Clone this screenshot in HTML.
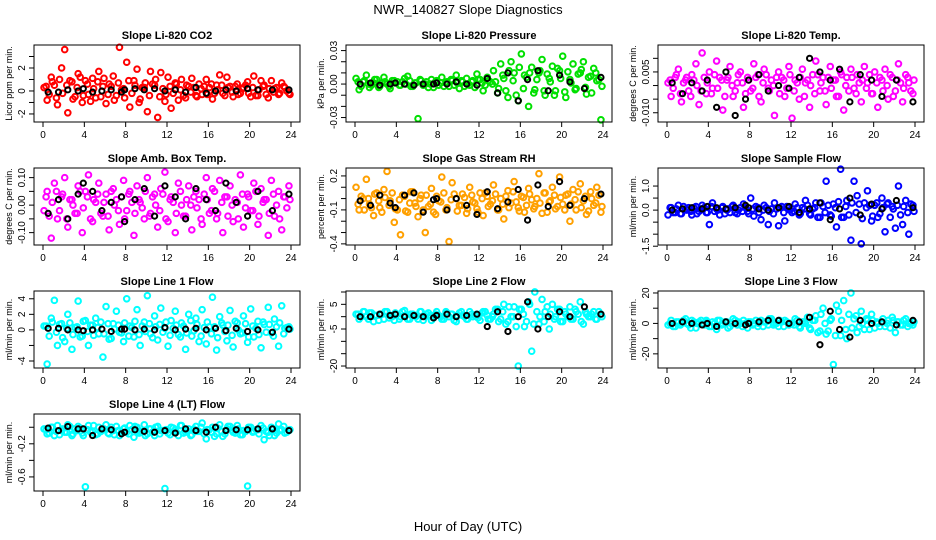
<!DOCTYPE html>
<html><head><meta charset="utf-8"><style>
body{margin:0;background:#fff;width:936px;height:540px;overflow:hidden}
svg{display:block;font-family:"Liberation Sans",sans-serif}
</style></head><body>
<svg id="chart" width="936" height="540" viewBox="0 0 936 540">
<rect width="936" height="540" fill="#fff"/>
<text x="468" y="14" text-anchor="middle" font-size="13">NWR_140827  Slope Diagnostics</text>
<text x="468" y="531" text-anchor="middle" font-size="13">Hour of Day (UTC)</text>
</svg>
<script>
const hoursColor = [0.1,0.4,0.8,1.1,1.4,1.8,2.1,2.4,2.8,3.1,3.4,3.8,4.1,4.4,4.8,5.1,5.4,5.8,6.1,6.4,6.8,7.1,7.4,7.8,8.1,8.4,8.8,9.1,9.4,9.8,10.1,10.4,10.8,11.1,11.4,11.8,12.1,12.4,12.8,13.1,13.4,13.8,14.1,14.4,14.8,15.1,15.4,15.8,16.1,16.4,16.8,17.1,17.4,17.8,18.1,18.4,18.8,19.1,19.4,19.8,20.1,20.4,20.8,21.1,21.4,21.8,22.1,22.4,22.8,23.1,23.4,23.8];
const hoursCore = [0.3,0.6,0.9,1.3,1.6,1.9,2.3,2.6,2.9,3.3,3.6,3.9,4.3,4.6,4.9,5.3,5.6,5.9,6.3,6.6,6.9,7.3,7.6,7.9,8.3,8.6,8.9,9.3,9.6,9.9,10.3,10.6,10.9,11.3,11.6,11.9,12.3,12.6,12.9,13.3,13.6,13.9,14.3,14.6,14.9,15.3,15.6,15.9,16.3,16.6,16.9,17.3,17.6,17.9,18.3,18.6,18.9,19.3,19.6,19.9,20.3,20.6,20.9,21.3,21.6,21.9,22.3,22.6,22.9,23.3,23.6,23.9];
const hoursBlack = [0.5,1.5,2.4,3.4,3.9,4.8,5.7,6.6,7.6,7.9,8.9,9.8,10.8,11.8,12.8,13.8,14.8,15.8,16.7,17.7,18.7,19.8,20.8,22.2,23.8];
const xTicks = [0,4,8,12,16,20,24];

const co2Color = [0.3,-0.8,1.2,0.5,-1.2,2.0,3.6,-1.9,0.8,-0.5,1.5,-1.0,0.9,-0.3,1.1,-0.6,1.7,0.4,-1.1,0.6,1.3,-0.4,3.8,0.2,2.5,-1.4,0.9,1.9,-0.7,0.3,-1.8,1.7,0.5,-2.3,1.6,-0.9,1.2,-1.5,0.7,-0.8,1.0,-0.6,0.4,1.1,-0.4,0.6,-0.3,1.0,0.3,-0.7,0.5,1.4,-0.2,1.2,0.4,-0.5,0.6,-0.2,0.3,0.8,-0.5,1.3,-0.4,0.9,0.5,-0.6,0.9,0.2,-0.3,0.7,0.3,-0.2];
const co2Core = [0.4,-0.3,0.8,-0.6,1.0,-0.2,0.5,0.9,-0.7,0.3,1.2,-0.4,0.6,-0.9,0.2,0.8,-0.5,1.1,-0.3,0.4,-0.8,0.7,0.1,-0.6,0.9,-0.2,0.5,-1.0,0.3,0.7,-0.4,0.6,1.0,-0.5,0.2,-0.3,0.4,-0.2,0.6,0.1,-0.4,0.5,-0.1,0.3,-0.5,0.2,0.4,-0.3,0.6,-0.2,0.1,0.5,-0.4,0.3,-0.1,0.4,-0.3,0.2,0.5,-0.2,0.3,-0.4,0.1,0.4,-0.3,0.2,-0.1,0.3,-0.2,0.4,0.0,-0.3];
const co2Black = [-0.1,-0.1,0.1,0,0.2,-0.1,0,0.1,-0.1,0.1,0.2,0.1,0.2,0,0.1,-0.1,0.3,-0.2,0,0.1,0,0.2,0.1,0.1,0.1];
const presColor = [0.005,-0.005,0.002,0.008,-0.003,0.001,0.004,-0.002,0.006,0,-0.004,0.003,0.002,-0.001,0.005,0.007,-0.002,0.001,-0.031,0.003,0,-0.003,0.004,0.002,-0.001,0.006,0.001,-0.002,0.003,0.008,-0.004,0.002,0.005,-0.001,0.003,0.009,0.004,-0.006,0.006,0.002,0.012,-0.008,0.018,0.005,-0.012,0.02,0.01,-0.015,0.027,0.008,-0.02,0.015,-0.005,0.01,0.022,-0.01,0.005,0.016,-0.006,0.012,0.025,-0.012,0.004,0.018,-0.004,0.01,0.02,-0.009,0.007,0.014,0.003,-0.032];
const presCore = [0.002,-0.002,0.003,0,-0.001,0.004,-0.003,0.001,0.002,-0.002,0.003,0.001,-0.001,0.002,0,0.003,-0.002,0.001,0.004,-0.001,0.002,0,-0.003,0.003,0.001,-0.002,0.002,0.004,-0.001,0.001,0.003,-0.002,0,0.002,-0.003,0.004,0.001,-0.001,0.003,0,0.002,-0.004,0.008,-0.006,0.012,0.003,-0.01,0.015,-0.004,0.006,0.01,-0.008,0.004,0.012,-0.006,0.009,0.002,-0.01,0.014,0.005,-0.007,0.011,0.001,-0.005,0.009,0.013,-0.003,0.006,-0.008,0.01,0.004,-0.002];
const presBlack = [0,0.001,-0.001,0,0.001,0,-0.001,0,0,0.001,0,0.002,0,-0.001,0.005,-0.008,0.01,-0.015,0.004,0.012,-0.006,0.008,0.002,-0.004,0.006];
const tempColor = [0.001,-0.004,0.003,0.006,-0.006,0.002,-0.002,0.004,0.008,-0.007,0.012,-0.003,0.005,-0.001,0.009,0.003,-0.009,0.002,0.007,-0.004,0.001,0.005,-0.008,0.003,-0.002,0.008,0.004,-0.006,0.006,-0.001,0.002,-0.011,0.005,0.003,-0.004,0.007,-0.012,0.002,-0.005,0.006,0.001,-0.008,0.004,0.009,-0.002,0.003,-0.007,0.007,0.002,-0.004,0.005,-0.009,0.003,0.006,-0.001,0.004,-0.006,0.007,0.001,-0.003,0.005,-0.008,0.002,0.006,-0.005,0.003,-0.002,0.008,-0.006,0.004,0.001,-0.003];
const tempCore = [0.002,-0.001,0.004,-0.003,0.001,0.003,-0.004,0.002,0,-0.002,0.003,0.001,-0.003,0.004,-0.001,0.002,-0.004,0.003,0,-0.002,0.004,0.001,-0.003,0.002,-0.001,0.003,-0.004,0.001,0.004,-0.002,0,0.003,-0.003,0.002,-0.001,0.004,-0.002,0.001,0.003,-0.004,0.002,0,-0.003,0.004,0.001,-0.002,0.003,-0.001,0.002,-0.004,0.004,0,-0.002,0.003,-0.003,0.001,0.002,-0.001,0.004,-0.003,0.001,0.003,-0.002,0,0.004,-0.004,0.002,0.001,-0.001,0.003,-0.002,0.002];
const tempBlack = [0.001,-0.003,0.001,-0.002,0.002,-0.008,0.005,-0.011,-0.005,0.002,0.004,-0.002,0,-0.001,0.003,0.01,0.005,0.002,0.006,-0.006,0.004,0.002,-0.004,0.002,-0.006];
const ambColor = [-0.02,0.05,-0.12,0.08,-0.05,0.03,0.1,-0.08,0.02,-0.03,0.07,-0.1,0.05,0.11,-0.06,0.01,0.08,-0.04,0.04,-0.09,0.06,0.02,-0.07,0.09,-0.02,0.05,-0.11,0.07,0.01,-0.05,0.1,-0.03,0.04,-0.08,0.06,0.12,-0.06,0.03,-0.1,0.08,0,-0.04,0.07,-0.09,0.05,0.02,-0.07,0.1,-0.03,0.06,-0.05,0.09,-0.1,0.03,0.07,-0.06,0.01,0.11,-0.08,0.04,-0.02,0.08,-0.07,0.06,0.02,-0.11,0.09,-0.04,0.05,-0.09,0.03,0.07];
const ambCore = [0.03,-0.04,0.01,0.05,-0.02,0.04,-0.05,0.02,0,-0.03,0.05,-0.01,0.03,-0.05,0.02,0.04,-0.03,0.01,-0.04,0.05,0,-0.02,0.03,-0.05,0.04,0.01,-0.03,0.02,-0.01,0.05,-0.04,0.03,0,-0.02,0.04,-0.05,0.02,0.01,-0.03,0.05,-0.04,0.02,0,0.03,-0.01,-0.05,0.04,0.02,-0.02,0.05,-0.03,0.01,0.03,-0.04,0,0.02,-0.05,0.04,-0.01,0.03,-0.02,0.05,-0.04,0.01,0.02,-0.03,0.04,0,-0.05,0.03,-0.01,0.02];
const ambBlack = [-0.03,0.02,-0.05,0.04,0.08,0.05,-0.02,0.01,0.03,-0.06,0.02,0.06,-0.04,0.07,0.03,-0.05,0.06,0.02,-0.02,0.08,0.01,-0.04,0.05,-0.02,0.04];
const rhColor = [0.1,-0.1,0.0,0.17,-0.05,-0.15,0.05,-0.08,0.08,0.24,-0.02,-0.21,-0.1,-0.32,0.02,-0.12,0.06,-0.04,-0.16,0.03,-0.3,-0.07,0.09,-0.14,-0.02,0.19,-0.1,-0.38,0.14,0.0,-0.06,0.04,-0.13,0.1,-0.03,-0.09,0.05,-0.15,0.02,-0.05,0.12,-0.1,0.0,-0.18,0.07,-0.04,0.15,-0.08,0.02,-0.12,0.09,-0.01,-0.07,0.22,-0.13,0.05,-0.03,0.1,-0.09,0.19,-0.05,0.03,-0.2,0.08,-0.1,0.13,-0.02,-0.14,0.06,-0.06,0.1,-0.12];
const rhCore = [-0.05,0.02,-0.1,0.0,-0.08,0.04,-0.02,-0.12,0.01,-0.06,0.05,-0.09,-0.01,0.03,-0.11,-0.04,0.06,-0.07,0.0,-0.1,0.03,-0.05,-0.12,0.02,-0.03,0.05,-0.08,-0.01,0.04,-0.11,-0.06,0.01,-0.09,0.03,-0.04,-0.12,0.0,0.05,-0.07,-0.02,0.04,-0.1,-0.05,0.02,-0.08,0.06,-0.03,-0.11,0.01,-0.06,0.04,-0.09,0.0,-0.04,0.05,-0.12,-0.02,0.03,-0.07,0.01,-0.1,0.04,-0.05,-0.01,0.06,-0.08,0.02,-0.11,0.0,-0.04,0.03,-0.07];
const rhBlack = [-0.02,-0.06,0.03,-0.04,-0.08,0.03,0.05,-0.12,-0.01,0.0,-0.1,0.0,-0.06,-0.14,0.06,-0.09,-0.03,0.08,-0.19,0.12,-0.07,0.15,-0.06,0.0,0.04];
const sampColor = [-0.2,0.1,-0.1,0.2,-0.15,0.05,0.1,-0.2,0.15,-0.05,0.2,-0.1,-0.6,0.3,0.05,-0.2,0.15,0.0,-0.1,0.2,-0.15,0.1,0.25,-0.05,0.5,-0.25,0.1,-0.4,0.2,-0.6,0.05,0.3,-0.65,0.15,-0.45,0.1,-0.1,0.25,-0.2,0.1,0.4,-0.15,0.05,0.3,-0.3,0.15,1.2,-0.2,0.25,-0.7,1.7,-0.3,0.4,-1.25,1.2,0.6,-1.4,0.3,0.8,-0.45,0.2,-0.3,0.5,-0.9,0.3,0.15,-0.75,1.0,-0.6,0.4,-1.0,0.2];
const sampCore = [0.1,-0.1,0.05,-0.15,0.15,0,-0.05,0.1,-0.15,0.05,0.1,-0.1,0.15,-0.05,0,0.1,-0.15,0.05,0.15,-0.1,0,-0.05,0.1,-0.15,0.05,0.15,-0.1,0,0.1,-0.05,-0.15,0.05,0.1,-0.1,0.15,0,-0.05,0.1,-0.15,0.05,0.2,-0.2,0.1,-0.3,0.3,-0.1,0.2,-0.25,0.1,0.35,-0.3,0.15,-0.2,0.3,-0.1,0.25,-0.35,0.1,0.2,-0.25,0.3,-0.15,0.1,0.25,-0.3,0.05,0.2,-0.2,0.15,-0.1,0.25,-0.05];
const sampBlack = [0.0,0.05,0.1,0.05,0.15,0.1,0.05,0.1,0.2,0.1,0.05,0.0,0.1,0.15,-0.1,0.05,0.3,-0.4,0.05,0.5,-0.2,0.25,0.05,0.4,0.1];
const l1Color = [0.5,-4.4,1.5,3.8,-2.0,0.8,-1.5,2.0,-2.5,0.3,3.7,-0.8,1.2,-2.0,0.6,1.5,-0.5,-3.5,3.0,-1.2,0.8,2.4,-0.3,-1.5,4.0,0.5,-0.9,2.6,-2.0,1.0,4.4,-0.5,1.8,-1.3,2.8,0.2,-2.1,1.2,2.4,-0.6,0.9,-2.5,2.0,-0.8,1.5,-1.5,2.6,-1.8,0.4,4.2,-2.6,1.7,0.6,-1.4,2.5,-2.2,0.9,-0.5,1.8,-1.6,2.7,-0.9,1.1,-2.3,0.7,2.9,-0.4,1.4,-2.1,3.1,0.2,0.4];
const l1Core = [0.5,-0.8,1.0,-0.3,0.7,-1.0,0.2,0.9,-0.6,0.4,-0.9,1.1,-0.2,0.6,-0.7,0.3,1.0,-0.5,0.8,-1.1,0.1,0.6,-0.4,0.9,-0.8,0.3,1.1,-0.6,0.5,-0.2,0.8,-1.0,0.4,0.7,-0.3,1.0,-0.7,0.2,0.6,-0.9,0.5,-0.4,1.2,-0.1,0.7,-0.8,0.3,1.0,-0.5,0.4,-1.0,0.9,-0.2,0.6,-0.7,1.1,0.0,-0.4,0.8,-0.9,0.5,0.2,-0.6,1.0,-0.3,0.7,-0.8,0.4,0.9,-0.5,0.3,0.1];
const l1Black = [0.2,0.2,0.0,0.0,-0.1,0.0,0.1,-0.2,0.1,0.1,0.0,0.1,0.0,0.3,0.0,0.1,0.2,0.0,0.2,-0.1,0.2,-0.2,0.0,-0.3,0.1];
const l2Color = [1,-1,2,0,1.5,-2,0.5,1,-1,2,0.5,-1.5,1,0,2.5,-1,1,0.5,-1,2,0,1.5,-1.5,1,0.5,-1,2,0,1,-2,1.5,0.5,-1,2,0,1,-1.5,2,0.5,-1,1,3,-1,5,-2,0,4,-20,3,-4,6,-14,10,-3,7,2,-5,5,0,3,-2,1,4,-1,2,6,-3,1,0,2,-1,1];
const l2Core = [1,0,2,-1,1.5,0.5,-1.5,1,2,-0.5,0,1.5,-1,2,0.5,-1,1,0,2,-1.5,1,0.5,-0.5,2,0,-1,1.5,1,-1.5,0.5,2,0,-1,1,0.5,-0.5,1.5,2,-1,0,3,-2,2,-3,4,0,-4,3,1,-2,5,-3,2,0,-2,4,1,-1,3,-2,2,0,-1,3,1,-2,2,0,1,-1,2,0];
const l2Black = [0,0,1,0.5,1,0,0.5,0,-0.5,0.5,1,0,0.5,1,-4,2,-6,0,6,-5,0,2,0,4,1];
const l3Color = [-1,2,-2,1,0,3,-1,2,-3,1,0,2,-2,1,-4,2,0,1,-2,3,-1,0,2,-3,1,0,-2,2,1,-1,3,0,-2,1,2,-1,0,3,-2,1,0,-3,2,5,-5,10,-7,2,-27,12,-8,15,-10,20,3,-6,8,-4,2,6,-3,0,1,-2,2,4,-6,1,-1,3,0,-1];
const l3Core = [0,-2,1,-1,2,0,-3,1,0,2,-1,1,-2,0,2,-1,1,-3,0,2,1,-2,0,1,-1,2,0,-2,1,3,-1,0,2,-2,1,0,-1,2,-3,1,4,-4,2,-6,6,0,-5,3,-8,8,2,-4,6,-3,5,-2,0,3,-4,2,1,-2,3,0,-3,2,1,-1,2,-2,0,1];
const l3Black = [0,1,0,-1,0,-2,1,0,-1,0,1,2,2,0,1,4,-14,8,-4,-9,2,0,1,-1,2];
const l4Color = [-0.02,-0.08,0.0,-0.1,0.02,-0.04,-0.06,0.03,-0.1,-0.02,0.01,-0.07,-0.72,0.02,-0.05,-0.09,0.0,-0.03,0.03,-0.08,-0.04,0.01,-0.1,-0.02,-0.06,0.02,-0.12,0.0,-0.05,0.03,-0.08,-0.02,-0.1,0.01,-0.04,-0.74,-0.07,0.0,-0.03,-0.1,0.02,-0.06,-0.02,-0.09,0.01,-0.05,0.05,-0.14,-0.03,0.0,-0.08,0.03,-0.11,-0.02,0.01,-0.06,0.02,-0.09,-0.04,-0.71,0.0,-0.05,-0.03,0.02,-0.15,-0.06,0.0,-0.1,0.04,-0.03,-0.07,-0.04];
const l4Core = [-0.03,-0.07,0.0,-0.05,-0.09,-0.02,-0.06,0.01,-0.08,-0.04,-0.01,-0.1,-0.03,-0.06,0.02,-0.08,-0.05,-0.02,-0.07,0.0,-0.09,-0.04,-0.06,-0.01,-0.08,-0.03,0.01,-0.07,-0.05,-0.1,-0.02,-0.06,0.0,-0.08,-0.04,-0.03,-0.09,-0.01,-0.06,0.02,-0.07,-0.04,-0.1,-0.02,-0.05,0.0,-0.08,-0.03,-0.06,-0.11,-0.01,-0.05,-0.08,0.01,-0.04,-0.07,-0.02,-0.09,-0.05,0.0,-0.06,-0.03,-0.08,-0.01,-0.05,-0.1,-0.02,-0.07,-0.04,0.01,-0.06,-0.03];
const l4Black = [-0.01,-0.04,0.01,-0.02,-0.02,-0.1,-0.02,-0.03,-0.08,-0.06,-0.03,-0.05,-0.06,-0.04,-0.07,-0.02,-0.04,-0.06,0.0,-0.04,-0.03,-0.03,-0.02,-0.02,-0.04];

const panels = [
 {id:'co2',title:'Slope Li-820 CO2',ylab:'Licor ppm per min.',col:0,row:0,ymin:-2.7,ymax:4.0,ticks:[-2,-1,0,1,2,3],labels:['-2','','0','','2',''],color:'#ff0000',c:co2Color,k:co2Core,b:co2Black},
 {id:'pressure',title:'Slope Li-820 Pressure',ylab:'kPa per min.',col:1,row:0,ymin:-0.034,ymax:0.035,ticks:[-0.03,-0.02,-0.01,0,0.01,0.02,0.03],labels:['-0.03','','','0.00','','','0.03'],color:'#00e000',c:presColor,k:presCore,b:presBlack},
 {id:'temp',title:'Slope Li-820 Temp.',ylab:'degrees C per min.',col:2,row:0,ymin:-0.0134,ymax:0.0149,ticks:[-0.01,-0.005,0,0.005,0.01],labels:['-0.010','','','0.005',''],color:'#ff00ff',c:tempColor,k:tempCore,b:tempBlack},
 {id:'amb-box',title:'Slope Amb. Box Temp.',ylab:'degrees C per min.',col:0,row:1,ymin:-0.145,ymax:0.135,ticks:[-0.1,-0.05,0,0.05,0.1],labels:['-0.10','','0.00','','0.10'],color:'#ff00ff',c:ambColor,k:ambCore,b:ambBlack},
 {id:'rh',title:'Slope Gas Stream RH',ylab:'percent per min.',col:1,row:1,ymin:-0.41,ymax:0.27,ticks:[-0.4,-0.3,-0.2,-0.1,0,0.1,0.2],labels:['-0.4','','','-0.1','','','0.2'],color:'#ffa000',c:rhColor,k:rhCore,b:rhBlack},
 {id:'sample-flow',title:'Slope Sample Flow',ylab:'ml/min per min.',col:2,row:1,ymin:-1.45,ymax:1.75,ticks:[-1.5,-1,-0.5,0,0.5,1],labels:['-1.5','','','0.0','','1.0'],color:'#0000ff',c:sampColor,k:sampCore,b:sampBlack},
 {id:'line1',title:'Slope Line 1 Flow',ylab:'ml/min per min.',col:0,row:2,ymin:-4.9,ymax:5.0,ticks:[-4,-2,0,2,4],labels:['-4','','0','2','4'],color:'#00ffff',c:l1Color,k:l1Core,b:l1Black},
 {id:'line2',title:'Slope Line 2 Flow',ylab:'ml/min per min.',col:1,row:2,ymin:-20.8,ymax:10.4,ticks:[-20,-15,-10,-5,0,5,10],labels:['-20','','','-5','','5',''],color:'#00ffff',c:l2Color,k:l2Core,b:l2Black},
 {id:'line3',title:'Slope Line 3 Flow',ylab:'ml/min per min.',col:2,row:2,ymin:-29.3,ymax:21.3,ticks:[-20,-10,0,10,20],labels:['-20','','0','','20'],color:'#00ffff',c:l3Color,k:l3Core,b:l3Black},
 {id:'line4',title:'Slope Line 4 (LT) Flow',ylab:'ml/min per min.',col:0,row:3,ymin:-0.77,ymax:0.16,ticks:[-0.6,-0.4,-0.2,0],labels:['-0.6','','-0.2',''],color:'#00ffff',c:l4Color,k:l4Core,b:l4Black}
];
const colLeft=[34,346,658], rowTop=[45,168,291,414], W=266, H=77;
const svg=document.getElementById('chart');
const NS='http://www.w3.org/2000/svg';
function mk(tag,attrs,parent){const e=document.createElementNS(NS,tag);for(const k in attrs)e.setAttribute(k,attrs[k]);parent.appendChild(e);return e;}
panels.forEach(p=>{
  const L=colLeft[p.col],T=rowTop[p.row];
  const xs=h=>L+9+h*(248/24);
  const ys=v=>T+(p.ymax-v)/(p.ymax-p.ymin)*H;
  const g=mk('g',{},svg);
  
  
  const t=mk('text',{x:L+W/2,y:T-6,'text-anchor':'middle','font-size':11,'font-weight':'bold'},g);
  
  
  t.textContent=p.title;
  const pts=mk('g',{fill:'none','stroke-width':2},g);
  
  
  p.k.forEach((v,i)=>{
    const c=mk('circle',{cx:xs(hoursCore[i]),cy:ys(v),r:2.8,stroke:p.color},pts);
    
    
  });
  p.c.forEach((v,i)=>{
    const c=mk('circle',{cx:xs(hoursColor[i]),cy:ys(v),r:2.8,stroke:p.color},pts);
    
    
  });
  p.b.forEach((v,i)=>{
    const c=mk('circle',{cx:xs(hoursBlack[i]),cy:ys(v),r:2.6,stroke:'#000'},pts);
    
    
  });
  const box=mk('rect',{x:L,y:T,width:W,height:H,fill:'none',stroke:'#000','stroke-width':1},g);
  
  
  const xa=mk('g',{stroke:'#000'},g);
  
  
  xTicks.forEach(h=>{
    mk('line',{x1:xs(h),x2:xs(h),y1:T+H,y2:T+H+5},xa);
    const tl=mk('text',{x:xs(h),y:T+H+16,'text-anchor':'middle','font-size':10,stroke:'none'},xa);
    
    
    tl.textContent=h;
  });
  const ya=mk('g',{stroke:'#000'},g);
  
  
  p.ticks.forEach((v,i)=>{
    mk('line',{x1:L-5,x2:L,y1:ys(v),y2:ys(v)},ya);
    if(p.labels[i]){
      const tl=mk('text',{x:L-9,y:ys(v),'text-anchor':'middle','font-size':10,stroke:'none',transform:`rotate(-90 ${L-9} ${ys(v)})`},ya);
      
      
      tl.textContent=p.labels[i];
    }
  });
  const yt=mk('text',{x:L-22,y:T+H/2,'text-anchor':'middle','font-size':9,transform:`rotate(-90 ${L-22} ${T+H/2})`},g);
  
  
  yt.textContent=p.ylab;
});
</script>
</body></html>
